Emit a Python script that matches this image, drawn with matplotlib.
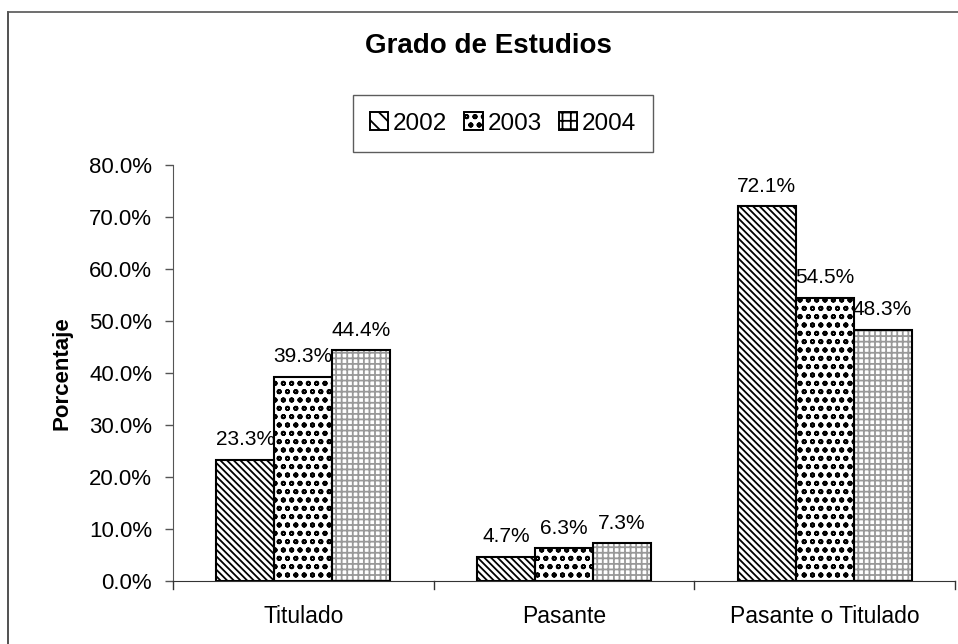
import matplotlib
matplotlib.use('Agg')
import matplotlib.pyplot as plt
import numpy as np
from matplotlib.lines import Line2D

plt.rcParams['font.family'] = ['Liberation Sans', 'DejaVu Sans']

categorias = ['Titulado', 'Pasante', 'Pasante o Titulado']
anios = ['2002', '2003', '2004']
v2002 = [23.3, 4.7, 72.1]
v2003 = [39.3, 6.3, 54.5]
v2004 = [44.4, 7.3, 48.3]

series = [v2002, v2003, v2004]
hatches = ['\\' * 5, 'oo', '+++']
hatch_colors = ['black', 'black', '#999999']

fig = plt.figure(figsize=(9.58, 6.44), dpi=100)
ax = fig.add_axes([173 / 958, 1 - 581 / 644, 782 / 958, (581 - 165) / 644])

x = np.arange(len(categorias))
w = 1 / 4.5
plt.rcParams['hatch.linewidth'] = 1.3

handles = []
for i, (vals, h, hc) in enumerate(zip(series, hatches, hatch_colors)):
    pos = x + (i - 1) * w
    ax.bar(pos, vals, width=w, color='white', edgecolor=hc, hatch=h,
           linewidth=0, zorder=2)
    bars = ax.bar(pos, vals, width=w, color='none', edgecolor='black',
                  linewidth=1.5, zorder=3)
    for b, v in zip(bars, vals):
        ax.text(b.get_x() + b.get_width() / 2, v + 2.0, f'{v:.1f}%',
                ha='center', va='bottom', fontsize=15)
    handles.append(plt.Rectangle((0, 0), 1, 1, facecolor='white',
                                 edgecolor='black', hatch=h[:2], linewidth=1.4))

ax.set_ylim(0, 80)
ax.set_xlim(-0.5, 2.5)
ax.set_yticks(np.arange(0, 81, 10))
ax.set_yticklabels([f'{t:.1f}%' for t in np.arange(0, 81, 10)], fontsize=16)
ax.set_xticks(x)
ax.set_xticklabels(categorias, fontsize=16.5)
ax.tick_params(axis='x', length=0, pad=17)
ax.tick_params(axis='y', length=6, width=1, pad=9, color='#555555')
# marcas entre categorias
for xb in [-0.5, 0.5, 1.5, 2.5]:
    ax.plot([xb, xb], [0, -1.5], color='#333333', lw=1, clip_on=False)
for s in ['top', 'right']:
    ax.spines[s].set_visible(False)
ax.spines['left'].set_color('#555555')
ax.spines['bottom'].set_color('#333333')
ax.set_ylabel('Porcentaje', fontsize=16, fontweight='bold')
ax.yaxis.set_label_coords((73 - 173) / 782, 0.5)

fig.text(488 / 958, 1 - 46 / 644, 'Grado de Estudios', ha='center',
         va='center', fontsize=20, fontweight='bold')

leg = fig.legend(handles, anios, loc='center', bbox_to_anchor=(503 / 958, 1 - 123.5 / 644),
                 ncol=3, fontsize=17.5, frameon=True, fancybox=False,
                 handlelength=0.75, handleheight=0.75, handletextpad=0.2,
                 columnspacing=0.7, borderpad=0.7)
leg.get_frame().set_edgecolor('#333333')
leg.get_frame().set_linewidth(1.0)

# marco del grafico
fig.add_artist(Line2D([8 / 958, 8 / 958], [0, 1 - 12 / 644], color='#333333', lw=1.2))
fig.add_artist(Line2D([8 / 958, 1], [1 - 12 / 644, 1 - 12 / 644], color='#555555', lw=1.2))

fig.savefig('out.png', dpi=100)
